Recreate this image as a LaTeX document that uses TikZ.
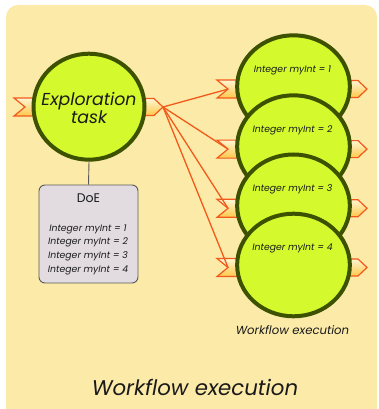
\documentclass[tikz,border=0pt]{standalone}
\usepackage{fontspec}
\usetikzlibrary{shapes.geometric}
\newfontfamily\gfont{Poppins}
\definecolor{panel}{HTML}{FCEAA8}
\definecolor{lime}{HTML}{D4FA2E}
\definecolor{olive}{HTML}{3D5200}
\definecolor{portline}{HTML}{F25A1B}
\definecolor{porttop}{HTML}{FFF6D2}
\definecolor{portbot}{HTML}{FFC84A}
\definecolor{doefill}{HTML}{E2DCE0}
\definecolor{doeline}{HTML}{5A5A5A}
\definecolor{ink}{HTML}{1A1A1A}
\tikzset{
  task/.style={ellipse, draw=olive, line width=4pt, fill=lime, inner sep=0pt},
  portshape/.style={draw=portline, line width=1.2pt, line join=miter,
    top color=porttop, bottom color=portbot},
  flow/.style={draw=portline, line width=1.3pt},
  inport/.pic={
    \path[portshape] (-22,-9) -- (0,-9) -- (0,9) -- (-22,9) -- (-11,0) -- cycle;
    \coordinate (-notch) at (-11,0);
  },
  outport/.pic={
    \path[portshape] (0,-8.5) -- (12,-8.5) -- (21,0) -- (12,8.5) -- (0,8.5) -- cycle;
    \coordinate (-tip) at (21,0);
  },
  lbl/.style={font=\gfont\itshape, text=ink, inner sep=0pt},
}
\begin{document}
\begin{tikzpicture}[x=1pt, y=-1pt]
\useasboundingbox (0,0) rectangle (378,409);
% panel
\fill[panel, rounded corners=12pt] (6,5) rectangle (377,420);

% exploration task with its ports
\pic (ein) at (36,107) {inport};
\pic (eout) at (142,107) {outport};
\node[task, minimum width=111pt, minimum height=106pt] (explore) at (89,106.7) {};
\node[lbl, font=\gfont\itshape\fontsize{17.3}{18}\selectfont, align=center] (etext) at (89,108)
  {Exploration\\task};

% design of experiments box
\node[draw=doeline, line width=0.9pt, fill=doefill, rounded corners=6pt,
      minimum width=99pt, minimum height=98pt] (doe) at (88.5,234) {};
\draw[doeline, line width=0.9pt] (explore.south) -- (doe.north);
\node[font=\gfont\fontsize{12.5}{14}\selectfont, text=ink, inner sep=0pt] (doetitle) at (88.5,198) {DoE};
\foreach \i/\yy in {1/229,2/242.7,3/256.3,4/270}
  \node[lbl, font=\gfont\itshape\fontsize{9.3}{11}\selectfont] (doe\i) at (88,\yy) {Integer myInt = \i};

% workflow executions
\foreach \i/\cy in {1/86.6,2/146.6,3/205.8,4/265}{
  \pic (win\i) at (239,\cy+2.5) {inport};
  \pic (wout\i) at (346,\cy+2.5) {outport};
  \node[task, minimum width=112.7pt, minimum height=102.6pt] (wf\i) at (293.5,\cy) {};
  \node[lbl, font=\gfont\itshape\fontsize{9.3}{11}\selectfont] (wt\i) at (292.5,\cy-16.5) {Integer myInt = \i};
}
\foreach \i in {1,...,4}
  \draw[flow] (eout-tip) -- (win\i-notch);

\node[lbl, font=\gfont\itshape\fontsize{11.7}{13}\selectfont] (wflabel) at (292.5,330) {Workflow execution};
\node[lbl, font=\gfont\itshape\fontsize{21.3}{25}\selectfont] (title) at (195,387) {Workflow execution};
\end{tikzpicture}
\end{document}
